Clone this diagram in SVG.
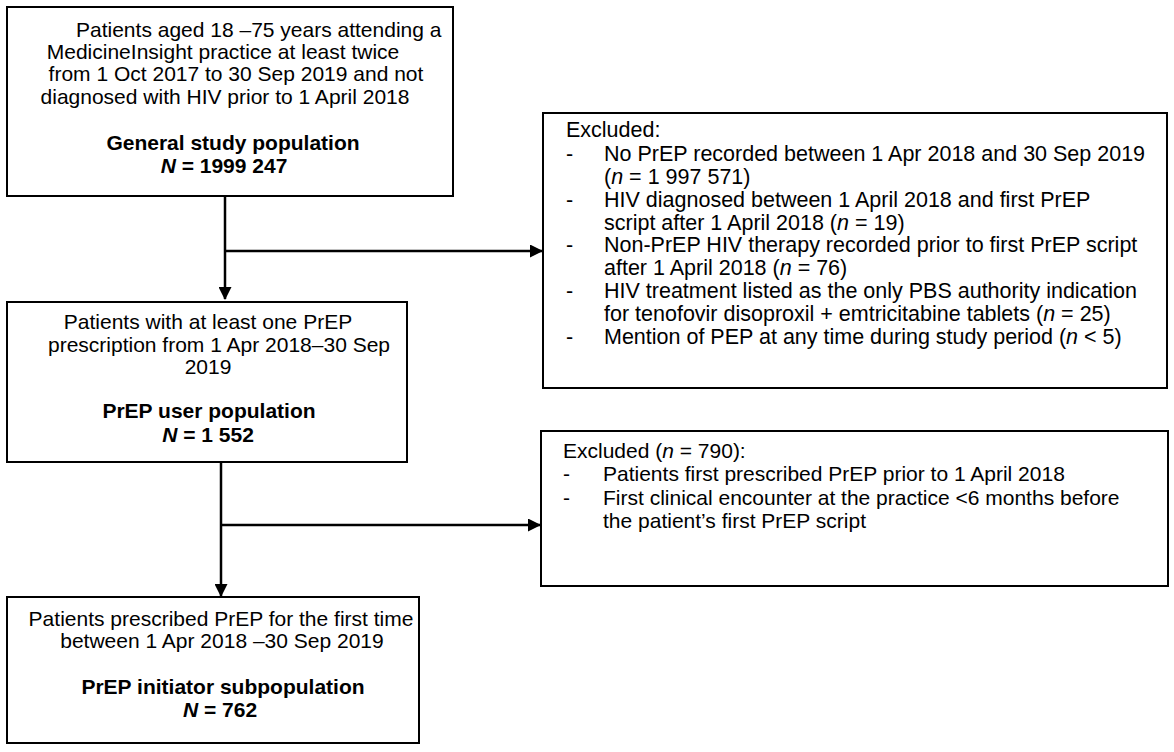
<svg xmlns="http://www.w3.org/2000/svg" width="1174" height="752" viewBox="0 0 1174 752">
<defs>
<style>
.box{fill:#fff;stroke:#000;stroke-width:2}
.t{font-family:"Liberation Sans",Arial,sans-serif;font-size:21px;fill:#000}
.x{font-size:21.5px}
.c{text-anchor:middle}
.b{font-weight:bold}
.ln{stroke:#000;stroke-width:2.5;fill:none}
</style>
<marker id="ah" markerWidth="13" markerHeight="13" refX="12" refY="6.5" orient="auto" markerUnits="userSpaceOnUse" viewBox="0 0 13 13">
<path d="M0,0 L13,6.5 L0,13 z" fill="#000"/>
</marker>
</defs>
<rect width="1174" height="752" fill="#fff"/>
<g id="connectors">
<line class="ln" x1="225" y1="196" x2="225" y2="299" marker-end="url(#ah)"/>
<line class="ln" x1="225" y1="251" x2="542" y2="251" marker-end="url(#ah)"/>
<line class="ln" x1="221" y1="462" x2="221" y2="596" marker-end="url(#ah)"/>
<line class="ln" x1="221" y1="525" x2="540" y2="525" marker-end="url(#ah)"/>
</g>
<g id="general">
<rect class="box" x="7" y="7" width="446" height="189"/>
<text class="t" x="76" y="37">Patients aged 18 –75 years attending a</text>
<text class="t c" x="223" y="59">MedicineInsight practice at least twice</text>
<text class="t c" x="236" y="81">from 1 Oct 2017 to 30 Sep 2019 and not</text>
<text class="t c" x="225" y="104">diagnosed with HIV prior to 1 April 2018</text>
<text class="t c b" x="233" y="150">General study population</text>
<text class="t c b" x="224" y="173"><tspan font-style="italic">N</tspan> = 1999 247</text>
</g>
<g id="excluded1">
<rect class="box" x="543" y="113" width="624" height="275"/>
<text class="t x" x="566" y="137">Excluded:</text>
<text class="t x" x="566" y="161">-</text><text class="t x" x="604" y="161">No PrEP recorded between 1 Apr 2018 and 30 Sep 2019</text>
<text class="t x" x="604" y="184">(<tspan font-style="italic">n</tspan> = 1 997 571)</text>
<text class="t x" x="566" y="207">-</text><text class="t x" x="604" y="207">HIV diagnosed between 1 April 2018 and first PrEP</text>
<text class="t x" x="604" y="230">script after 1 April 2018 (<tspan font-style="italic">n</tspan> = 19)</text>
<text class="t x" x="566" y="252">-</text><text class="t x" x="604" y="252">Non-PrEP HIV therapy recorded prior to first PrEP script</text>
<text class="t x" x="604" y="275">after 1 April 2018 (<tspan font-style="italic">n</tspan> = 76)</text>
<text class="t x" x="566" y="298">-</text><text class="t x" x="604" y="298">HIV treatment listed as the only PBS authority indication</text>
<text class="t x" x="604" y="321">for tenofovir disoproxil + emtricitabine tablets (<tspan font-style="italic">n</tspan> = 25)</text>
<text class="t x" x="566" y="344">-</text><text class="t x" x="604" y="344">Mention of PEP at any time during study period (<tspan font-style="italic">n</tspan> &lt; 5)</text>
</g>
<g id="prep-user">
<rect class="box" x="7" y="302" width="400" height="160"/>
<text class="t c" x="208" y="329">Patients with at least one PrEP</text>
<text class="t c" x="219" y="352">prescription from  1 Apr 2018–30 Sep</text>
<text class="t c" x="208" y="374">2019</text>
<text class="t c b" x="209" y="418">PrEP user population</text>
<text class="t c b" x="208" y="442"><tspan font-style="italic">N</tspan> = 1 552</text>
</g>
<g id="excluded2">
<rect class="box" x="541" y="431" width="627" height="155"/>
<text class="t" x="563" y="458">Excluded (<tspan font-style="italic">n</tspan> = 790):</text>
<text class="t" x="563" y="481">-</text><text class="t" x="603" y="481">Patients first prescribed PrEP prior to 1 April 2018</text>
<text class="t" x="563" y="505">-</text><text class="t" x="603" y="505">First clinical encounter at the practice &lt;6 months before</text>
<text class="t" x="603" y="528">the patient’s first PrEP script</text>
</g>
<g id="initiator">
<rect class="box" x="7" y="597" width="412" height="146"/>
<text class="t c" x="221" y="626">Patients prescribed PrEP for the first time</text>
<text class="t c" x="222" y="648">between 1 Apr 2018 –30 Sep 2019</text>
<text class="t c b" x="223" y="694">PrEP initiator subpopulation</text>
<text class="t c b" x="220" y="717"><tspan font-style="italic">N</tspan> = 762</text>
</g>
</svg>
